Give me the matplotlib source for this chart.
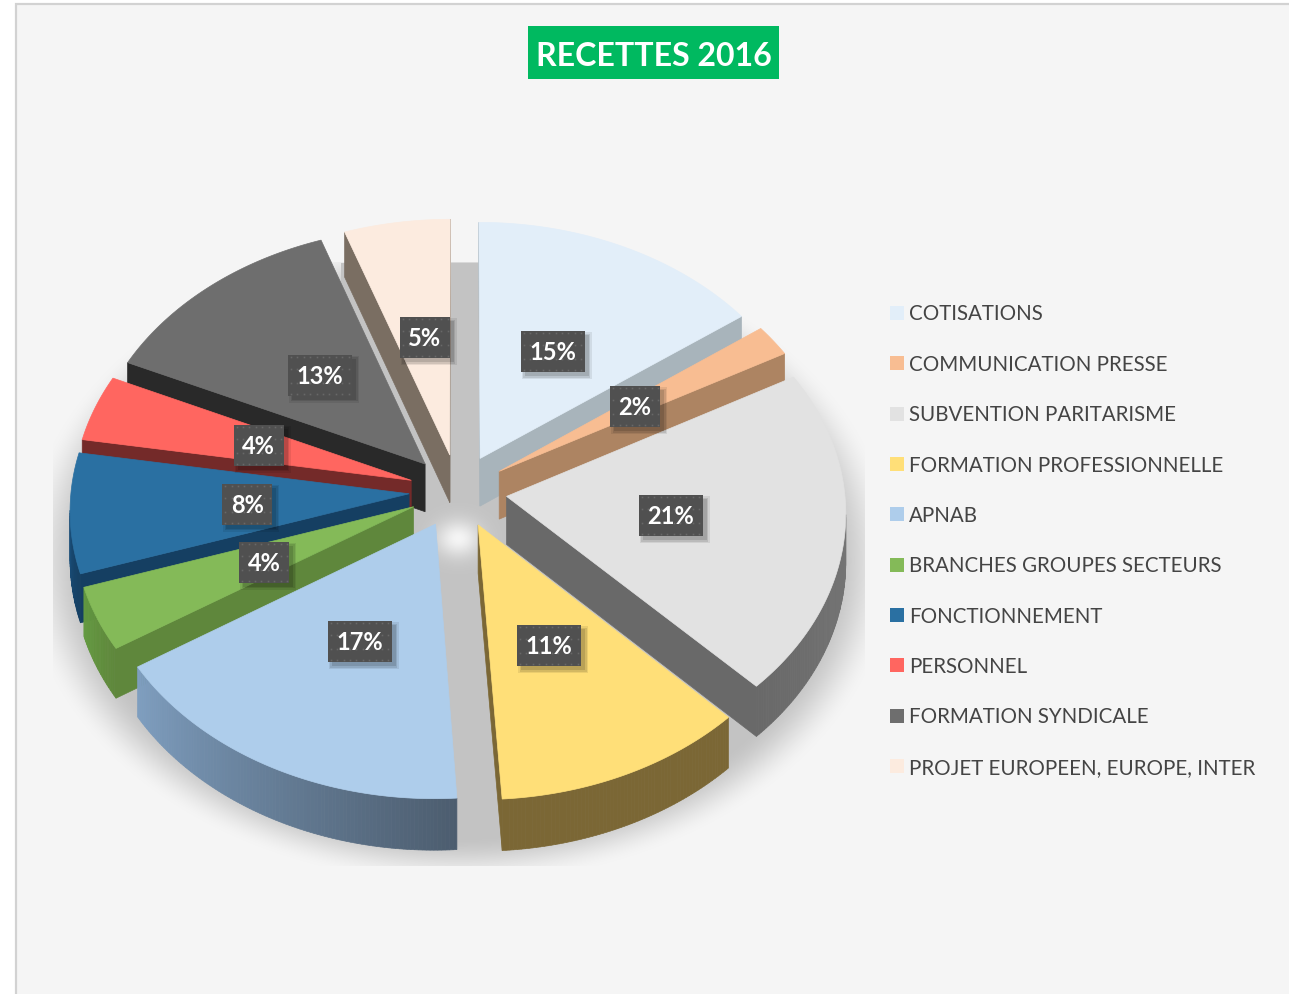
import numpy as np
import matplotlib
matplotlib.use("Agg")
import matplotlib.pyplot as plt
from matplotlib.patches import Rectangle, Polygon
from matplotlib.colors import to_rgb

title = "RECETTES 2016"
categories = ["COTISATIONS", "COMMUNICATION PRESSE", "SUBVENTION PARITARISME",
              "FORMATION PROFESSIONNELLE", "APNAB", "BRANCHES GROUPES SECTEURS",
              "FONCTIONNEMENT", "PERSONNEL", "FORMATION SYNDICALE",
              "PROJET EUROPEEN, EUROPE, INTER"]
values = [15, 2, 20.65, 11.35, 17, 4, 7.6, 4.2, 12.8, 5.4]
labels = ["15%", "2%", "21%", "11%", "17%", "4%", "8%", "4%", "13%", "5%"]
top_colors = ["#e2eef9", "#f8bd92", "#e2e2e2", "#ffdf78", "#aecdeb",
              "#84ba58", "#2a70a2", "#ff6660", "#6e6e6e", "#fcebdf"]
wall_colors = ["#a8b4bb", "#ad8462", "#696969", "#7b6735", "#4c5d6f",
               "#5f873c", "#153f62", "#742a29", "#292929", "#7a6e62"]
arc_start_colors = ["#a8b4bb", "#ad8462", "#808080", "#7b6735", "#4c5d6f",
                    "#5f873c", "#153f62", "#742a29", "#292929", "#7a6e62"]
arc_end_colors = ["#a8b4bb", "#ad8462", "#696969", "#7b6735", "#7e9ebf",
                  "#639a40", "#1d5a8c", "#742a29", "#292929", "#7a6e62"]

W, H = 1289, 994
CX, CY, A, B, KP, DEPTH, EXPL = 458, 491, 338, 254, 0.06, 48, 0.145
LABEL_RX, LABEL_RY = 0.483, 0.495


def project(u, v, z=0.0):
    u, v = np.asarray(u, float), np.asarray(v, float)
    s = 1 / (1 + KP * v)
    return CX + A * u * s, CY - B * v * s + DEPTH * z * s


def area(x, y):
    return 0.5 * np.sum(x * np.roll(y, -1) - np.roll(x, -1) * y)


fig = plt.figure(figsize=(W / 100, H / 100), dpi=100, facecolor="white")
ax = fig.add_axes([0, 0, 1, 1])
ax.set_xlim(0, W)
ax.set_ylim(H, 0)
ax.axis("off")

# panel
ax.add_patch(Rectangle((16, 4), W, H, fc="#f5f5f5", ec="#d2d2d2", lw=1.6, zorder=0))

# soft ground shadow
yy, xx = np.mgrid[0:H, 0:W]
d = np.sqrt(((xx - 458) / 405) ** 2 + ((yy - 560) / 300) ** 2)
al = np.clip((1.08 - d) / 0.16, 0, 1)
al = al * al * (3 - 2 * al)
al[(yy > 262) & (yy < 560) & (xx > 340) & (xx < 560)] = 1
al[(yy < 262) | (yy > 865) | (xx < 53) | (xx > 864)] = 0
spot = np.exp(-(((xx - 458) / 22.0) ** 2 + ((yy - 538) / 18.0) ** 2))
gray = 0.765 + (0.96 - 0.765) * spot
img = np.dstack([gray, gray, gray, al])
ax.imshow(img, extent=(0, W, H, 0), zorder=1, interpolation="bilinear", aspect="auto")
ax.set_xlim(0, W)
ax.set_ylim(H, 0)

# slices
fracs = np.array(values, float) / np.sum(values)
edges = np.concatenate([[0], np.cumsum(fracs)]) * 2 * np.pi
mids = (edges[:-1] + edges[1:]) / 2
order = np.argsort(-np.cos(mids))
z = 2.0
for i in order:
    a0, a1, am = edges[i], edges[i + 1], mids[i]
    ou, ov = EXPL * np.sin(am), EXPL * np.cos(am)
    th = np.linspace(a0, a1, max(8, int(values[i] * 6)))
    au, av = ou + np.sin(th), ov + np.cos(th)
    xt, yt = project(np.r_[ou, au], np.r_[ov, av])
    orient = np.sign(area(xt, yt))
    # radial walls
    for (u1, v1), (u2, v2) in [((ou, ov), (au[0], av[0])), ((au[-1], av[-1]), (ou, ov))]:
        x1, y1 = project(u1, v1)
        x2, y2 = project(u2, v2)
        x3, y3 = project(u2, v2, 1)
        x4, y4 = project(u1, v1, 1)
        qx, qy = np.array([x1, x2, x3, x4]), np.array([y1, y2, y3, y4])
        if np.sign(area(qx, qy)) != orient:
            ax.add_patch(Polygon(np.c_[qx, qy], fc=wall_colors[i], ec=wall_colors[i], lw=0.5, zorder=z))
    # outer wall, shaded along the arc
    c0, c1 = np.array(to_rgb(arc_start_colors[i])), np.array(to_rgb(arc_end_colors[i]))
    for j in range(len(th) - 1):
        x1, y1 = project(au[j], av[j])
        x2, y2 = project(au[j + 1], av[j + 1])
        x3, y3 = project(au[j + 1], av[j + 1], 1)
        x4, y4 = project(au[j], av[j], 1)
        qx, qy = np.array([x1, x2, x3, x4]), np.array([y1, y2, y3, y4])
        if np.sign(area(qx, qy)) != orient:
            c = c0 + (c1 - c0) * j / (len(th) - 2)
            ax.add_patch(Polygon(np.c_[qx, qy], fc=c, ec=c, lw=0.5, zorder=z))
    z += 0.01
    ax.add_patch(Polygon(np.c_[xt, yt], fc=top_colors[i], ec=top_colors[i], lw=0.5, zorder=z))
    z += 0.01

# data labels
for i in range(len(values)):
    ou, ov = EXPL * np.sin(mids[i]), EXPL * np.cos(mids[i])
    lx, ly = project(ou + LABEL_RX * np.sin(mids[i]), ov + LABEL_RY * np.cos(mids[i]))
    lx = lx + 1.5
    ly = ly + 1
    bw = 64 if len(labels[i]) > 2 else 50
    bh = 41
    for g, ga in zip([0, 1.5, 3], [0.12, 0.10, 0.08]):
        ax.add_patch(Rectangle((lx - bw / 2 + 4 - g, ly - bh / 2 + 4 - g), bw + 2 * g, bh + 2 * g,
                               fc="black", ec="none", alpha=ga, zorder=5))
    ax.add_patch(Rectangle((lx - bw / 2, ly - bh / 2), bw, bh, fc="#505050", ec="none", zorder=6))
    gx = np.arange(lx - bw / 2 + 3, lx + bw / 2, 6.4)
    gy = [ly - bh / 2 + 2, ly - bh / 2 + 14, ly - bh / 2 + 28, ly + bh / 2 - 2]
    mx, my = np.meshgrid(gx, gy)
    ax.plot(mx.ravel(), my.ravel(), ls="none", marker="s", ms=1.2, mew=0, color="#686868", zorder=6.5)
    ax.text(lx, ly + 1, labels[i], color="white", family="Lato", weight="bold", fontsize=17,
            ha="center", va="center", zorder=7)

# title
ax.add_patch(Rectangle((528, 26), 251, 53, fc="#00b960", ec="none", zorder=5))
ax.text(653.5, 56, title, color="white", family="Lato", weight="bold", fontsize=23.1,
        ha="center", va="center", zorder=6)

# legend
for i, name in enumerate(categories):
    y = 313 + i * 50.35
    ax.add_patch(Rectangle((890, y - 7), 14, 14, fc=top_colors[i], ec="none", zorder=5))
    ax.text(909, y + 1.5, name, color="#444444", family="Lato", fontsize=14.8,
            ha="left", va="center", zorder=6)

fig.savefig("out.png", dpi=100, facecolor="white")
